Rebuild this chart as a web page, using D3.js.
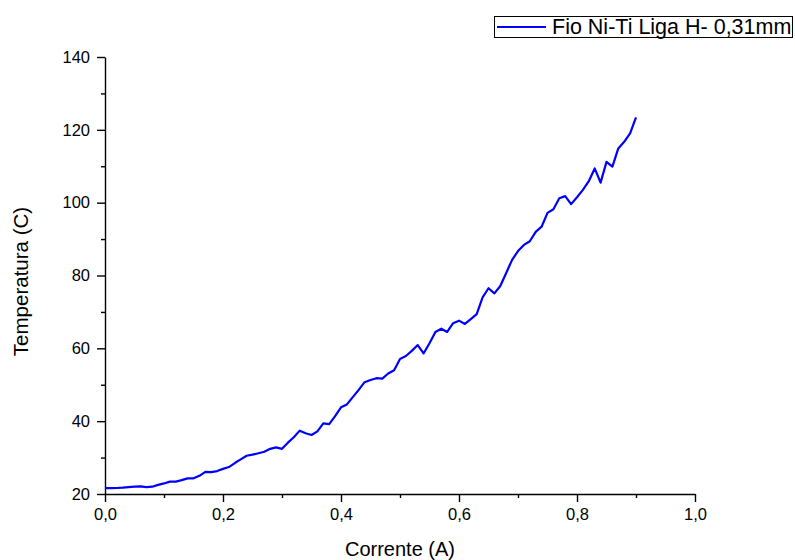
<!DOCTYPE html>
<html>
<head>
<meta charset="utf-8">
<script src="https://cdn.jsdelivr.net/npm/d3@7"></script>
<style>
  html, body { margin: 0; padding: 0; background: #fff; }
  svg { display: block; font-family: "Liberation Sans", Arial, sans-serif; }
</style>
</head>
<body>
<svg id="chart" width="795" height="560"></svg>
<script>
// Corrente aplicada (A), passos de 0,01 A
const corrente = d3.range(0, 91).map(k => k / 100);

// Temperatura medida (C) para cada valor de corrente
const temperatura = [
  21.6, 21.6, 21.65, 21.75, 21.9, 22.0, 22.1, 21.9, 22.0, 22.5,
  22.9, 23.4, 23.4, 23.8, 24.3, 24.3, 25.0, 26.1, 26.0, 26.3,
  26.9, 27.4, 28.5, 29.5, 30.5, 30.8, 31.2, 31.6, 32.4, 32.8,
  32.4, 34.1, 35.6, 37.4, 36.7, 36.2, 37.2, 39.4, 39.2, 41.4,
  43.8, 44.6, 46.6, 48.6, 50.7, 51.3, 51.8, 51.7, 53.1, 54.0,
  57.1, 57.9, 59.3, 60.9, 58.6, 61.4, 64.5, 65.4, 64.5, 66.9,
  67.6, 66.7, 68.0, 69.4, 74.0, 76.5, 75.1, 77.1, 80.7, 84.3,
  86.7, 88.4, 89.4, 92.0, 93.4, 97.2, 98.2, 101.2, 101.8, 99.6,
  101.5, 103.5, 105.9, 109.4, 105.5, 111.2, 109.9, 114.9, 116.7, 119.0,
  123.4
];

const serieNome = "Fio Ni-Ti Liga H- 0,31mm";
const xTicksMaiores = [0, 0.2, 0.4, 0.6, 0.8, 1.0];
const xTicksMenores = [0.1, 0.3, 0.5, 0.7, 0.9];
const yTicksMaiores = [20, 40, 60, 80, 100, 120, 140];
const yTicksMenores = [30, 50, 70, 90, 110, 130];

const svg = d3.select("#chart");
const plot = { left: 105, right: 695, top: 57, bottom: 494 };

const x = d3.scaleLinear().domain([0, 1]).range([plot.left, plot.right]);
const y = d3.scaleLinear().domain([20, 140]).range([plot.bottom, plot.top]);

const pt = d3.formatLocale({ decimal: ",", thousands: ".", grouping: [3], currency: ["", ""] });
const fmtX = pt.format(".1f");

function styleAxis(g) {
  g.selectAll("path.domain").attr("stroke", "#000").attr("stroke-width", 1.4);
  g.selectAll(".tick line").attr("stroke", "#000").attr("stroke-width", 1.4);
  g.selectAll(".tick text").attr("fill", "#000").style("font-size", "16.5px")
    .style("font-family", "'Liberation Sans', Arial, sans-serif");
}

// Eixo X
svg.append("g")
  .attr("transform", `translate(0,${plot.bottom})`)
  .call(d3.axisBottom(x).tickValues(xTicksMenores).tickSize(4).tickFormat(""))
  .call(g => g.select("path.domain").remove())
  .call(styleAxis);
svg.append("g")
  .attr("transform", `translate(0,${plot.bottom})`)
  .call(d3.axisBottom(x).tickValues(xTicksMaiores).tickSize(8).tickSizeOuter(0).tickPadding(6).tickFormat(fmtX))
  .call(styleAxis);

// Eixo Y
svg.append("g")
  .attr("transform", `translate(${plot.left},0)`)
  .call(d3.axisLeft(y).tickValues(yTicksMenores).tickSize(4).tickFormat(""))
  .call(g => g.select("path.domain").remove())
  .call(styleAxis);
svg.append("g")
  .attr("transform", `translate(${plot.left},0)`)
  .call(d3.axisLeft(y).tickValues(yTicksMaiores).tickSize(8).tickSizeOuter(0).tickPadding(7).tickFormat(d3.format("d")))
  .call(styleAxis);

// Títulos dos eixos
svg.append("text")
  .attr("x", (plot.left + plot.right) / 2).attr("y", 556)
  .attr("text-anchor", "middle").style("font-size", "20px")
  .text("Corrente (A)");
svg.append("text")
  .attr("transform", `translate(28,${(plot.top + plot.bottom) / 2 + 6}) rotate(-90)`)
  .attr("text-anchor", "middle").style("font-size", "20.5px")
  .text("Temperatura (C)");

// Curva
const line = d3.line()
  .x((d, i) => x(corrente[i]))
  .y(d => y(d));
svg.append("path")
  .datum(temperatura)
  .attr("fill", "none")
  .attr("stroke", "#0000ff")
  .attr("stroke-width", 2.2)
  .attr("stroke-linejoin", "round")
  .attr("d", line);

// Legenda
const leg = svg.append("g");
leg.append("rect")
  .attr("x", 494.5).attr("y", 16.5).attr("width", 298).attr("height", 21)
  .attr("fill", "#fff").attr("stroke", "#000").attr("stroke-width", 1);
leg.append("line")
  .attr("x1", 497).attr("x2", 546).attr("y1", 27).attr("y2", 27)
  .attr("stroke", "#0000ff").attr("stroke-width", 2.2);
leg.append("text")
  .attr("x", 552).attr("y", 34)
  .style("font-size", "21.5px")
  .text(serieNome);
</script>
</body>
</html>
